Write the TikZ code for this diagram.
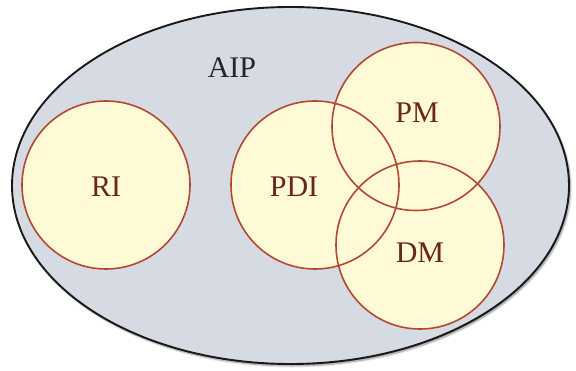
\documentclass[tikz,border=0pt]{standalone}
\usepackage{fontspec}
\setmainfont{Liberation Serif}
\usetikzlibrary{shadows.blur}
\definecolor{aipfill}{RGB}{214,219,227}
\definecolor{setfill}{RGB}{255,250,214}
\definecolor{setline}{RGB}{178,72,50}
\definecolor{settext}{RGB}{105,38,28}
\tikzset{
  universe/.style={draw=black!90, line width=1.9pt, fill=aipfill,
    blur shadow={shadow xshift=1.5pt, shadow yshift=-2pt, shadow blur steps=6, shadow opacity=45}},
  setdisc/.style={fill=setfill},
  setrim/.style={draw=setline, line width=1.6pt},
  setlabel/.style={text=settext, font=\fontsize{30}{30}\selectfont},
}
\begin{document}
\begin{tikzpicture}[x=1pt,y=-1pt]
  \useasboundingbox (0,0) rectangle (576,371);
  % enclosing set
  \path[universe] (290.5,185.5) ellipse [x radius=278.5, y radius=178.5];
  \node[font=\fontsize{30}{30}\selectfont, text=black!85] (aip) at (232,68) {AIP};
  % sets: centres and common radius
  \coordinate (cRI) at (106,185);
  \coordinate (cPDI) at (315,185);
  \coordinate (cPM) at (416,126.5);
  \coordinate (cDM) at (420,245);
  \foreach \c in {cRI,cPDI,cPM,cDM}
    \path[setdisc] (\c) circle [radius=84];
  \foreach \c in {cRI,cPDI,cPM,cDM}
    \path[setrim] (\c) circle [radius=84];
  % labels
  \node[setlabel] (ri) at (106,187) {RI};
  \node[setlabel] (pdi) at (294,187) {PDI};
  \node[setlabel] (pm) at (417,113) {PM};
  \node[setlabel] (dm) at (420,253) {DM};
\end{tikzpicture}
\end{document}
